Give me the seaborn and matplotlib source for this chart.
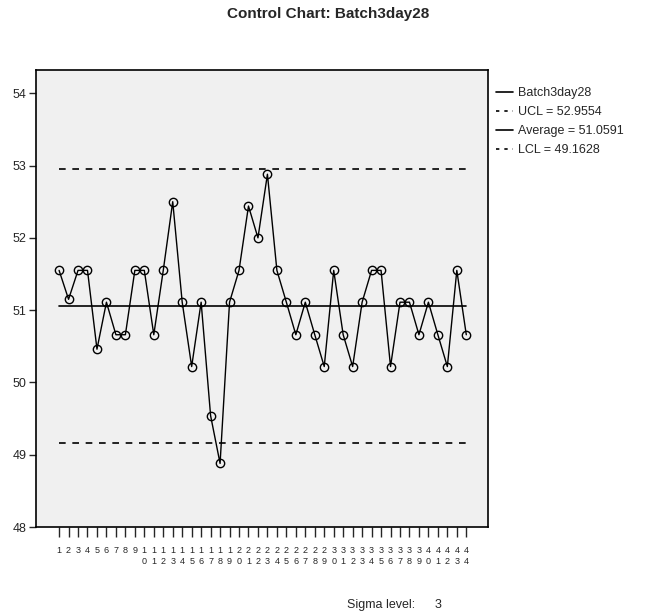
import seaborn as sns
import matplotlib.pyplot as plt
from matplotlib.lines import Line2D
import numpy as np
import pandas as pd

# Values
sample = list(range(1, 45))
batch = [51.55, 51.15, 51.55, 51.55, 50.46, 51.11, 50.66, 50.66, 51.55, 51.55,
         50.66, 51.55, 52.50, 51.11, 50.22, 51.11, 49.54, 48.88, 51.11, 51.55,
         52.44, 52.00, 52.88, 51.55, 51.11, 50.66, 51.11, 50.66, 50.22, 51.55,
         50.66, 50.22, 51.11, 51.55, 51.55, 50.22, 51.11, 51.11, 50.66, 51.11,
         50.66, 50.22, 51.55, 50.66]
ucl = 52.9554
avg = 51.0591
lcl = 49.1628
y_ticks = [48, 49, 50, 51, 52, 53, 54]

df = pd.DataFrame({"Sample": sample, "Batch3day28": batch})

sns.set_style("white")
plt.rcParams['font.family'] = ['Liberation Sans', 'DejaVu Sans']

fig = plt.figure(figsize=(6.56, 6.15), dpi=100)
ax = fig.add_axes([0.055, 0.143, 0.689, 0.743])
ax.set_facecolor("#f0f0f0")

# control limit lines, spanning first to last sample
ax.plot([sample[0], sample[-1]], [ucl, ucl], color="black", linestyle=(0, (4, 4)), linewidth=1.2)
ax.plot([sample[0], sample[-1]], [lcl, lcl], color="black", linestyle=(0, (4, 4)), linewidth=1.2)
ax.plot([sample[0], sample[-1]], [avg, avg], color="black", linewidth=1.2)

sns.lineplot(data=df, x="Sample", y="Batch3day28", ax=ax, color="black", linewidth=1,
             marker="o", markersize=6, markerfacecolor="none", markeredgecolor="black",
             markeredgewidth=1)

ax.set_xlim(-1.43, 46.3)
ax.set_ylim(48, 54.32)
ax.set_yticks(y_ticks)
ax.set_yticklabels([str(v) for v in y_ticks], fontsize=9)
ax.set_xticks(sample)
ax.set_xticklabels(["\n".join(str(s)) for s in sample], fontsize=6.5, linespacing=1.25,
                   va="top")
ax.tick_params(axis="y", direction="out", length=5, width=1, left=True, pad=2)
ax.tick_params(axis="x", direction="out", length=7, width=1, bottom=True, pad=7)
ax.set_xlabel("")
ax.set_ylabel("")
for sp in ax.spines.values():
    sp.set_color("black")
    sp.set_linewidth(1.2)

fig.suptitle("Control Chart: Batch3day28", x=0.5, y=0.988, fontsize=11, fontweight="bold")

handles = [
    Line2D([], [], color="black", linewidth=1.2),
    Line2D([], [], color="black", linewidth=1.2, linestyle=(0, (2, 3))),
    Line2D([], [], color="black", linewidth=1.2),
    Line2D([], [], color="black", linewidth=1.2, linestyle=(0, (2, 3))),
]
labels = ["Batch3day28", "UCL = 52.9554", "Average = 51.0591", "LCL = 49.1628"]
fig.legend(handles, labels, loc="upper left", bbox_to_anchor=(0.748, 0.866), frameon=False,
           fontsize=9, handlelength=1.4, handletextpad=0.4, labelspacing=0.55,
           borderaxespad=0)

fig.text(0.529, 0.007, "Sigma level:", fontsize=9, ha="left", va="bottom")
fig.text(0.662, 0.007, "3", fontsize=9, ha="left", va="bottom")

fig.savefig("out.png", dpi=100)
